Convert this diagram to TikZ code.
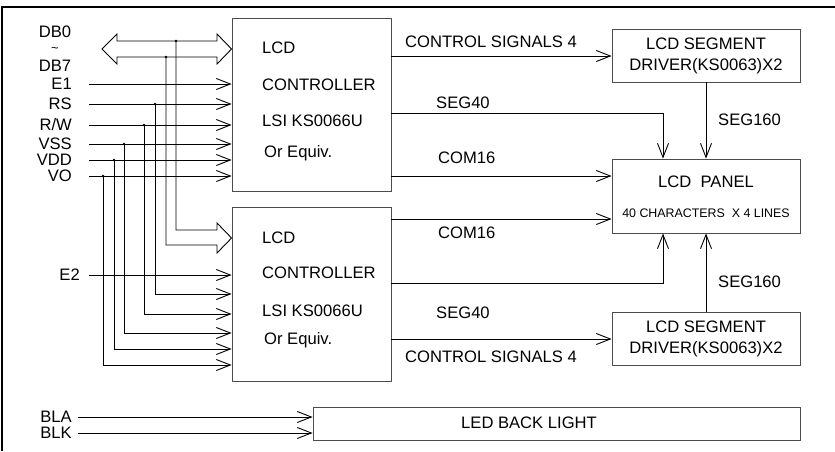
\documentclass[tikz,border=0pt]{standalone}
\usepackage{fontspec}
\setmainfont{Liberation Sans}
\usetikzlibrary{positioning, calc, arrows.meta}

\begin{document}
\begin{tikzpicture}[x=1pt, y=-1pt, >={Straight Barb[length=14pt,width=11pt]},
    blk/.style={draw=black!70, line width=0.9pt, inner sep=0pt},
    wire/.style={line width=0.9pt},
    lbl/.style={font=\fontsize{16.6}{21}\selectfont, inner sep=0pt},
    small/.style={font=\fontsize{12.4}{14}\selectfont, inner sep=0pt}]
    \useasboundingbox (0,0) rectangle (835,451);

    % Frame
    \draw[line width=1.6pt] (2,451) -- (2,7) -- (835,7);

    % Blocks
    \node[blk, minimum width=159pt, minimum height=173pt] (ctrlA) at (311.5,104.5) {};
    \node[blk, minimum width=159pt, minimum height=174pt] (ctrlB) at (311.5,294) {};
    \node[blk, minimum width=188pt, minimum height=53pt, lbl, align=center] (drvA) at (706,55.5) {LCD SEGMENT\\DRIVER(KS0063)X2};
    \node[blk, minimum width=188pt, minimum height=74pt] (panel) at (706,196) {};
    \node[blk, minimum width=188pt, minimum height=53pt, lbl, align=center] (drvB) at (706,338.5) {LCD SEGMENT\\DRIVER(KS0063)X2};
    \node[blk, minimum width=487pt, minimum height=33pt] (led) at (556.5,423.5) {};

    % Block texts
    \foreach \b/\ya/\yb/\yc/\yd in {ctrlA/48/85/121/153, ctrlB/238/273/311/340} {
        \node[lbl, anchor=west] (\b-l1) at (262,\ya) {LCD};
        \node[lbl, anchor=west] (\b-l2) at (262,\yb) {CONTROLLER};
        \node[lbl, anchor=west] (\b-l3) at (262,\yc) {LSI KS0066U};
        \node[lbl, anchor=west] (\b-l4) at (264,\yd) {Or Equiv.};
    }
    \node[lbl] (panel-l1) at (706,182) {LCD\ \ PANEL};
    \node[small] (panel-l2) at (706,213) {40 CHARACTERS\ \ X 4 LINES};
    \node[lbl] (led-l1) at (529,423) {LED BACK LIGHT};

    % Data bus
    \draw[wire] (102,49) -- (117,34) -- (117,41) -- (217,41) -- (217,34) -- (ctrlA.west |- 0,49)
        -- (217,64) -- (217,57) -- (117,57) -- (117,64) -- cycle;
    \draw[wire] (176,41) -- (176,230) -- (217,230) -- (217,223) -- (ctrlB.west |- 0,238)
        -- (217,253) -- (217,245) -- (166,245) -- (166,57);
    \fill (176,41) circle (1.4pt) (166,57) circle (1.4pt);
    \node[lbl] (tDB0) at (55,32) {DB0};
    \node[font=\fontsize{13}{14}\selectfont, inner sep=0pt] (tTil) at (55,50) {\char"007E};
    \node[lbl] (tDB7) at (55,66) {DB7};

    % Inputs of the first controller
    \foreach \nm/\txt/\y in {e1/E1/84, rs/RS/104, rw/{R/W}/125, vss/VSS/144, vdd/VDD/160, vo/VO/176} {
        \node[lbl, anchor=east] (t\nm) at (72,\y) {\txt};
        \coordinate (i\nm) at (89,\y);
        \draw[wire,->] (i\nm) -- (i\nm -| ctrlA.west);
    }

    % Inputs of the second controller
    \node[lbl, anchor=east] (te2) at (80,275) {E2};
    \coordinate (ie2) at (89,275);
    \draw[wire,->] (ie2) -- (ie2 -| ctrlB.west);
    \foreach \nm/\x/\y in {rs/155/294, rw/144/314, vss/124/333, vdd/114/349, vo/103/365} {
        \coordinate (tap\nm) at (i\nm -| \x,0);
        \fill (tap\nm) circle (1.4pt);
        \draw[wire,->] (tap\nm) |- (ctrlB.west |- 0,\y);
    }

    % Outputs
    \coordinate (segX) at (663,0);
    \draw[wire,->] (ctrlA.east |- 0,56) -- (drvA.west |- 0,56);
    \draw[wire,->] (ctrlA.east |- 0,113) -| (segX |- panel.north);
    \draw[wire,->] (ctrlA.east |- 0,176) -- (panel.west |- 0,176);
    \draw[wire,->] (ctrlB.east |- 0,219) -- (panel.west |- 0,219);
    \draw[wire,->] (ctrlB.east |- 0,283) -| (segX |- panel.south);
    \draw[wire,->] (ctrlB.east |- 0,339) -- (drvB.west |- 0,339);
    \draw[wire,->] (drvA.south) -- (panel.north);
    \draw[wire,->] (drvB.north) -- (panel.south);

    % Output labels
    \node[lbl, anchor=west] (oCtlA) at (405,42) {CONTROL SIGNALS 4};
    \node[lbl, anchor=west] (oSegA) at (436,103) {SEG40};
    \node[lbl, anchor=west] (oComA) at (438,158) {COM16};
    \node[lbl, anchor=west] (oComB) at (438,233) {COM16};
    \node[lbl, anchor=west] (oSegB) at (436,313) {SEG40};
    \node[lbl, anchor=west] (oCtlB) at (405,357) {CONTROL SIGNALS 4};
    \node[lbl, anchor=west] (oDrvA) at (718,120) {SEG160};
    \node[lbl, anchor=west] (oDrvB) at (718,282) {SEG160};

    % Back light
    \foreach \nm/\y in {BLA/417, BLK/433} {
        \node[lbl, anchor=east] (t\nm) at (72,\y) {\nm};
        \coordinate (i\nm) at (78,\y);
        \draw[wire,->] (i\nm) -- (i\nm -| led.west);
    }
\end{tikzpicture}
\end{document}
